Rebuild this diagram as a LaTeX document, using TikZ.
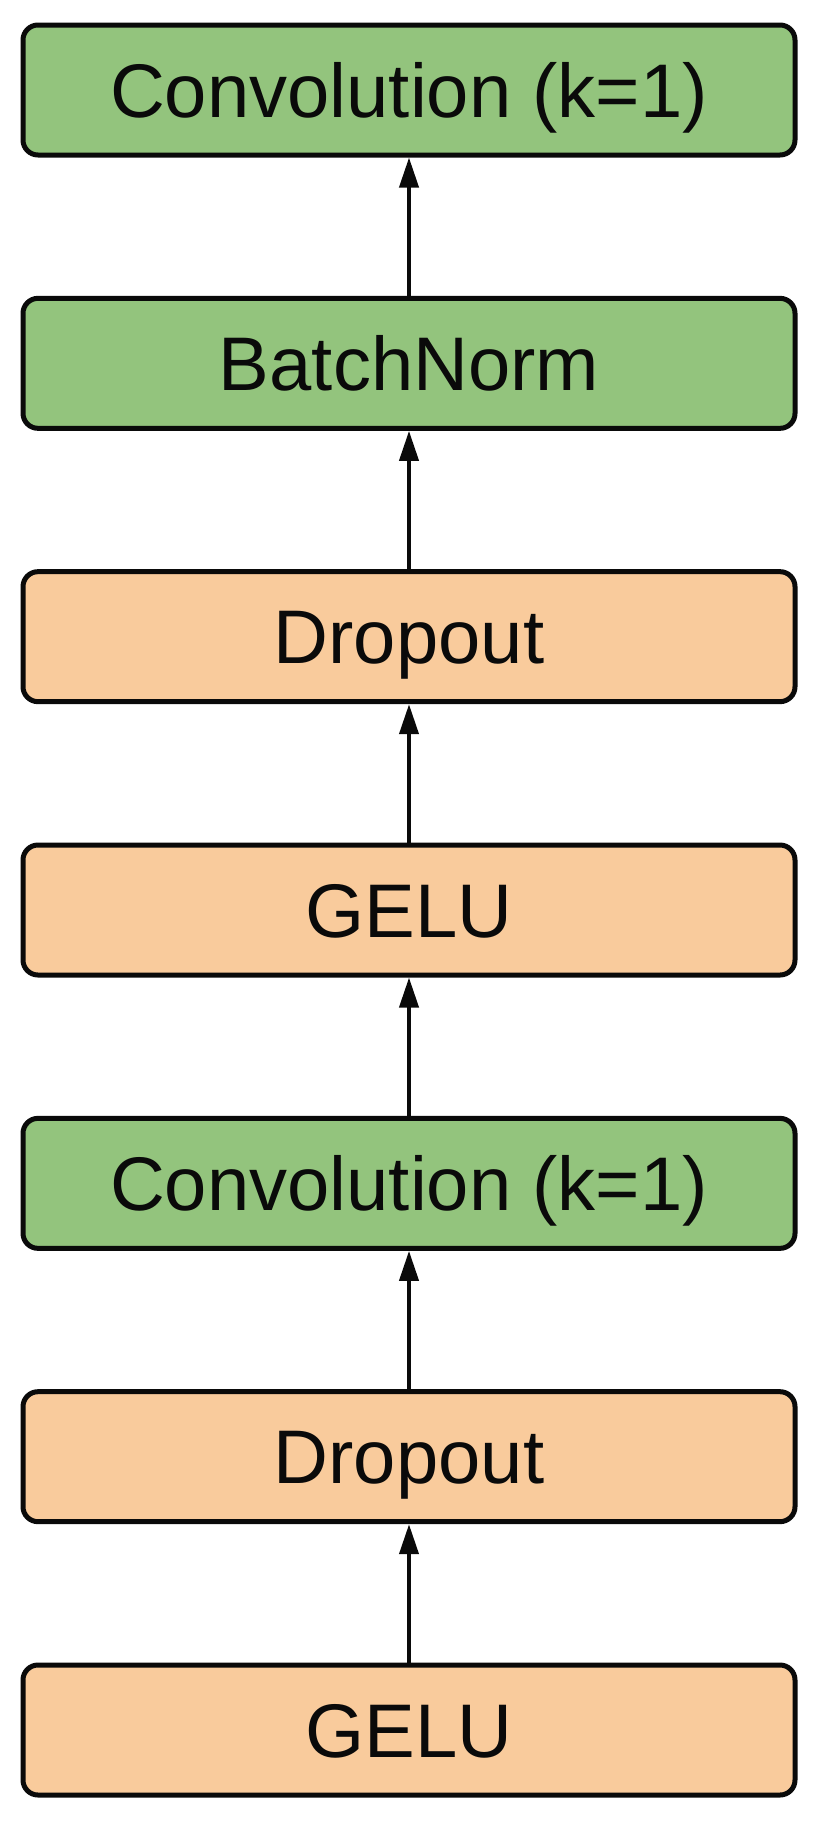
\documentclass[tikz,border=0pt]{standalone}
\usepackage{fontspec}
\setmainfont{Liberation Sans}
\usetikzlibrary{arrows.meta}
\definecolor{boxgreen}{HTML}{93C47D}
\definecolor{boxorange}{HTML}{F9CB9C}
\definecolor{ink}{HTML}{0A0A0A}
\tikzset{
  layer/.style={draw=ink, line width=5pt, rounded corners=15pt,
    minimum width=772pt, minimum height=130pt, inner sep=0pt,
    text height=54.5pt, text depth=0pt, text=ink,
    font=\fontsize{76}{90}\selectfont},
  greenbox/.style={layer, fill=boxgreen},
  orangebox/.style={layer, fill=boxorange},
  flow/.style={draw=ink, line width=4pt, -{Triangle[width=19pt,length=30pt]}}
}
\begin{document}
\begin{tikzpicture}[x=1pt,y=-1pt]
\useasboundingbox (0,0) rectangle (827,1826);
\node[greenbox]  (c2) at (409,90)      {Convolution (k=1)};
\node[greenbox]  (bn) at (409,363.33)  {BatchNorm};
\node[orangebox] (d2) at (409,636.67)  {Dropout};
\node[orangebox] (g2) at (409,910)     {GELU};
\node[greenbox]  (c1) at (409,1183.33) {Convolution (k=1)};
\node[orangebox] (d1) at (409,1456.67) {Dropout};
\node[orangebox] (g1) at (409,1730)    {GELU};
\draw[flow] (g1.north) -- (d1.south);
\draw[flow] (d1.north) -- (c1.south);
\draw[flow] (c1.north) -- (g2.south);
\draw[flow] (g2.north) -- (d2.south);
\draw[flow] (d2.north) -- (bn.south);
\draw[flow] (bn.north) -- (c2.south);
\end{tikzpicture}
\end{document}
